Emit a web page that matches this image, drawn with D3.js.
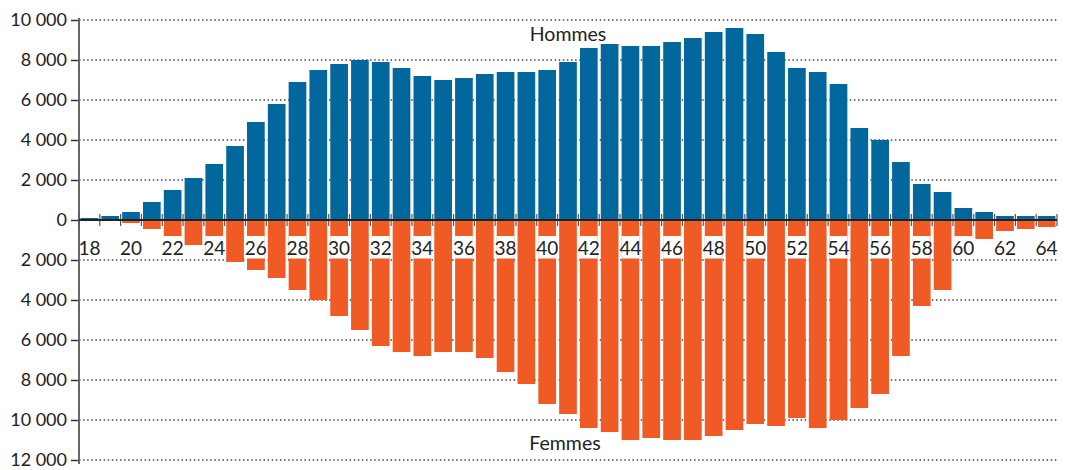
<!DOCTYPE html>
<html>
<head>
<meta charset="utf-8">
<script src="https://cdn.jsdelivr.net/npm/d3@7"></script>
<style>
  body { margin: 0; background: #fff; }
  text { font-family: Lato, "Open Sans", sans-serif; fill: #222; }
</style>
</head>
<body>
<script>
// ages 18 to 64
var ages = d3.range(18, 65);

var hommes = [100, 200, 400, 900, 1500, 2100, 2800, 3700, 4900, 5800,
              6900, 7500, 7800, 8000, 7900, 7600, 7200, 7000, 7100, 7300,
              7400, 7400, 7500, 7900, 8600, 8800, 8700, 8700, 8900, 9100,
              9400, 9600, 9300, 8400, 7600, 7400, 6800, 4600, 4000, 2900,
              1800, 1400, 600, 400, 200, 200, 200];

var femmes = [0, 0, 150, 450, 850, 1250, 1700, 2100, 2500, 2900,
              3500, 4000, 4800, 5500, 6300, 6600, 6800, 6600, 6600, 6900,
              7600, 8200, 9200, 9700, 10400, 10600, 11000, 10900, 11000, 11000,
              10800, 10500, 10200, 10300, 9900, 10400, 10000, 9400, 8700, 6800,
              4300, 3500, 900, 950, 550, 450, 350];

var yTicks = [10000, 8000, 6000, 4000, 2000, 0, -2000, -4000, -6000, -8000, -10000, -12000];

var data = ages.map(function(a, i) {
    return {age: a, h: hommes[i], f: femmes[i]};
});

var width = 1069, height = 470;

var svg = d3.select("body")
            .append("svg")
            .attr("width", width)
            .attr("height", height);

var x = d3.scaleBand()
          .domain(ages)
          .range([79, 1057])
          .paddingInner(0.15)
          .paddingOuter(0.075);

var y = d3.scaleLinear()
          .domain([-12000, 10000])
          .range([460, 20]);

var fmt = d3.formatLocale({decimal: ",", thousands: " ", grouping: [3], currency: ["", " €"]}).format(",d");

// dotted grid
svg.append("g")
   .selectAll("line")
   .data(yTicks.filter(function(d) { return d !== 0; }))
   .enter().append("line")
   .attr("x1", 79)
   .attr("x2", 1057)
   .attr("y1", function(d) { return y(d); })
   .attr("y2", function(d) { return y(d); })
   .attr("stroke", "#444")
   .attr("stroke-width", 1.3)
   .attr("stroke-dasharray", "1.5,2.6");

// bars
svg.selectAll(".h")
   .data(data)
   .enter().append("rect")
   .attr("class", "h")
   .attr("x", function(d) { return x(d.age); })
   .attr("width", x.bandwidth())
   .attr("y", function(d) { return y(d.h); })
   .attr("height", function(d) { return y(0) - y(d.h); })
   .attr("fill", "#02679c");

svg.selectAll(".f")
   .data(data)
   .enter().append("rect")
   .attr("class", "f")
   .attr("x", function(d) { return x(d.age); })
   .attr("width", x.bandwidth())
   .attr("y", y(0))
   .attr("height", function(d) { return y(0) - y(d.f); })
   .attr("fill", "#f05a25");

// y axis
var yAxis = svg.append("g")
   .attr("transform", "translate(79,0)")
   .call(d3.axisLeft(y)
           .tickValues(yTicks)
           .tickSize(8)
           .tickPadding(4)
           .tickFormat(function(d) { return fmt(Math.abs(d)); }));
yAxis.select(".domain").remove();
yAxis.selectAll(".tick line").attr("stroke", "#333").attr("stroke-width", 1.5);
yAxis.selectAll("text")
     .style("font-size", "18px")
     .attr("fill", "#222");

svg.append("line")
   .attr("x1", 79).attr("x2", 79)
   .attr("y1", 18).attr("y2", 464)
   .attr("stroke", "#666")
   .attr("stroke-width", 2);

// zero line with ticks between bars
var off = (x.step() - x.bandwidth()) / 2;
var bounds = ages.map(function(a) { return x(a) - off; }).concat([x(64) + x.bandwidth() + off]);

svg.append("g")
   .selectAll("line")
   .data(bounds)
   .enter().append("line")
   .attr("x1", function(d) { return d; })
   .attr("x2", function(d) { return d; })
   .attr("y1", y(0) - 6)
   .attr("y2", y(0) + 6)
   .attr("stroke", "#555")
   .attr("stroke-width", 1.2);

svg.append("line")
   .attr("x1", 79).attr("x2", 1057)
   .attr("y1", y(0)).attr("y2", y(0))
   .attr("stroke", "#222")
   .attr("stroke-width", 2);

// age labels on white boxes
var even = data.filter(function(d) { return d.age % 2 === 0; });

svg.selectAll(".lblbox")
   .data(even)
   .enter().append("rect")
   .attr("class", "lblbox")
   .attr("x", function(d) { return x(d.age); })
   .attr("width", x.bandwidth())
   .attr("y", 236)
   .attr("height", 22.5)
   .attr("fill", "#fff");

svg.selectAll(".lbl")
   .data(even)
   .enter().append("text")
   .attr("class", "lbl")
   .attr("x", function(d) { return x(d.age) + x.bandwidth() / 2; })
   .attr("y", 255)
   .style("text-anchor", "middle")
   .style("font-size", "19px")
   .text(function(d) { return d.age; });

svg.append("text")
   .attr("x", 568)
   .attr("y", 41)
   .style("text-anchor", "middle")
   .style("font-size", "19.5px")
   .text("Hommes");

svg.append("text")
   .attr("x", 565)
   .attr("y", 450)
   .style("text-anchor", "middle")
   .style("font-size", "19.5px")
   .text("Femmes");
</script>
</body>
</html>
